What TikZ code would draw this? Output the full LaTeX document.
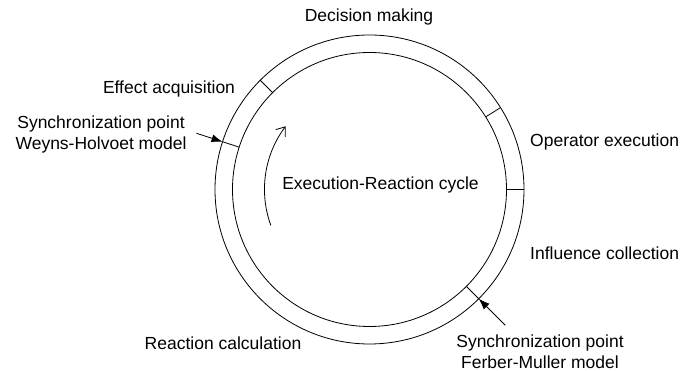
\documentclass[tikz,border=0pt]{standalone}
\usepackage{fontspec}
\setmainfont{Liberation Sans}
\usetikzlibrary{arrows.meta,calc}
\begin{document}
\begin{tikzpicture}[x=1pt,y=1pt,
  ring/.style={draw, circle, line width=0.8pt, inner sep=0pt, outer sep=0pt},
  lbl/.style={inner sep=0pt, font=\fontsize{17.5}{21}\selectfont, align=center},
  tick/.style={line width=0.8pt},
  pointer/.style={line width=0.8pt, -{Latex[length=11pt,width=8pt]}},
  cyc/.style={line width=0.8pt, -{Straight Barb[length=8pt,width=12pt]}}]
\useasboundingbox (0,0) rectangle (683,371);
\coordinate (c) at (369.5,181.5);
\node[ring, minimum size=309pt] (outer) at (c) {};
\node[ring, minimum size=274pt] (inner) at (c) {};
% phase boundaries
\foreach \a in {135,32,0,-45,162}
  \draw[tick] (inner.\a) -- (outer.\a);
% synchronization pointers
\coordinate (sW) at ($(c)+(162:182)$);
\coordinate (sF) at ($(c)+(-45:192)$);
\draw[pointer] (sW) -- (outer.162);
\draw[pointer] (sF) -- (outer.-45);
% cycle direction
\draw[cyc] ($(c)+(200:105)$) arc[start angle=200, end angle=143, radius=105];
% labels
\node[lbl] (dm) at (369,354) {Decision making};
\node[lbl] (ea) at (169,282) {Effect acquisition};
\node[lbl] (wh) at (101,237) {Synchronization point\\Weyns-Holvoet model};
\node[lbl, anchor=west] (oe) at (530,229) {Operator execution};
\node[lbl, anchor=west] (ic) at (530,118) {Influence collection};
\node[lbl] (fm) at (540,19) {Synchronization point\\Ferber-Muller model};
\node[lbl] (rc) at (223,28) {Reaction calculation};
\node[lbl] (erc) at (380.5,186) {Execution-Reaction cycle};
\end{tikzpicture}
\end{document}
